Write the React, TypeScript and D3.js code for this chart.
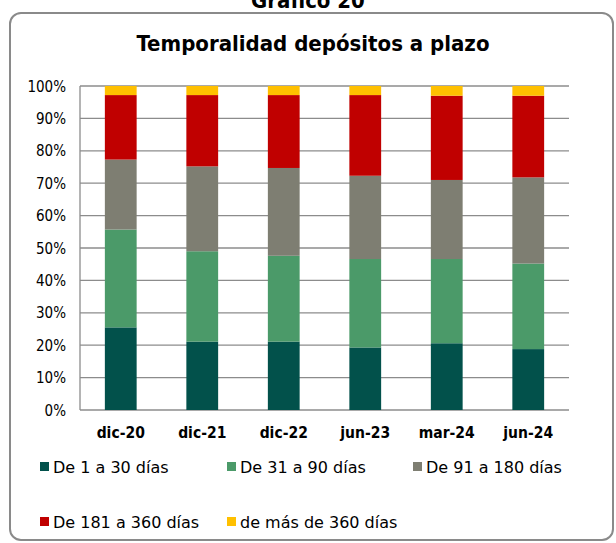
import React from "react";
import * as d3 from "d3";

const categories = ["dic-20", "dic-21", "dic-22", "jun-23", "mar-24", "jun-24"];
const seriesNames = ["De 1 a 30 días", "De 31 a 90 días", "De 91 a 180 días", "De 181 a 360 días", "de más de 360 días"];
const s1 = [25.5, 21.1, 21.1, 19.3, 20.6, 18.8];
const s2 = [30.2, 27.9, 26.5, 27.3, 26.0, 26.4];
const s3 = [21.6, 26.2, 27.1, 25.7, 24.4, 26.6];
const s4 = [19.9, 22.0, 22.5, 24.9, 26.0, 25.2];
const s5 = [2.8, 2.8, 2.8, 2.8, 3.0, 3.0];
const yTicks = [0, 10, 20, 30, 40, 50, 60, 70, 80, 90, 100];
const colors = ["#02514B", "#4B9A69", "#7E7E72", "#C00000", "#FFC000"];

const FONT = "'DejaVu Sans Condensed', 'DejaVu Sans', sans-serif";
const FONT_LEG = "'DejaVu Sans', sans-serif";

export default function App() {
  const W = 616, H = 543;
  const left = 80, right = 569, top = 86, bottom = 410;
  const x = d3.scaleBand<string>().domain(categories).range([left, right]).paddingInner(0.61).paddingOuter(0.305);
  const y = d3.scaleLinear().domain([0, 100]).range([bottom, top]);
  const seriesVals = [s1, s2, s3, s4, s5];
  const rows = categories.map((c, i) => {
    const o: any = { cat: c };
    seriesNames.forEach((n, k) => (o[n] = seriesVals[k][i]));
    return o;
  });
  const stacked = d3.stack<any>().keys(seriesNames)(rows);

  const legendPos = [
    { x: 40, y: 467 },
    { x: 227, y: 467 },
    { x: 413, y: 467 },
    { x: 40, y: 522 },
    { x: 227, y: 522 },
  ];

  return (
    <div style={{ position: "fixed", left: 0, top: 0 }}>
      <svg width={W} height={H} style={{ display: "block", background: "#fff" }}>
        <text x={308} y={8} textAnchor="middle" fontFamily={FONT} fontWeight="bold" fontSize={22} fill="#000">Gráfico 20</text>
        <rect x={10} y={13} width={603} height={527} rx={11} ry={11} fill="#fff" stroke="#8a8a8a" strokeWidth={2} />
        <text x={313} y={51} textAnchor="middle" fontFamily={FONT} fontWeight="bold" fontSize={22} fill="#000">Temporalidad depósitos a plazo</text>
        {yTicks.map((t) => (
          <g key={t}>
            <line x1={left} x2={right} y1={y(t)} y2={y(t)} stroke="#8c8c8c" strokeWidth={1.3} />
            <text x={66} y={y(t) + 5.5} textAnchor="end" fontFamily={FONT} fontSize={15} fill="#000">{t}%</text>
          </g>
        ))}
        <line x1={left} x2={left} y1={top} y2={bottom} stroke="#8c8c8c" strokeWidth={1.3} />
        {stacked.map((s, k) => (
          <g key={s.key} fill={colors[k]}>
            {s.map((d, i) => (
              <rect key={i} x={x(categories[i])!} width={x.bandwidth()} y={y(d[1])} height={y(d[0]) - y(d[1])} />
            ))}
          </g>
        ))}
        {categories.map((c) => (
          <text key={c} x={x(c)! + x.bandwidth() / 2} y={438} textAnchor="middle" fontFamily={FONT} fontWeight="bold" fontSize={15.5} fill="#000">{c}</text>
        ))}
        {seriesNames.map((n, k) => (
          <g key={n}>
            <rect x={legendPos[k].x} y={legendPos[k].y - 5} width={9} height={9} fill={colors[k]} />
            <text x={legendPos[k].x + 13} y={legendPos[k].y + 6} fontFamily={FONT_LEG} fontSize={16} fill="#000">{n}</text>
          </g>
        ))}
      </svg>
    </div>
  );
}
